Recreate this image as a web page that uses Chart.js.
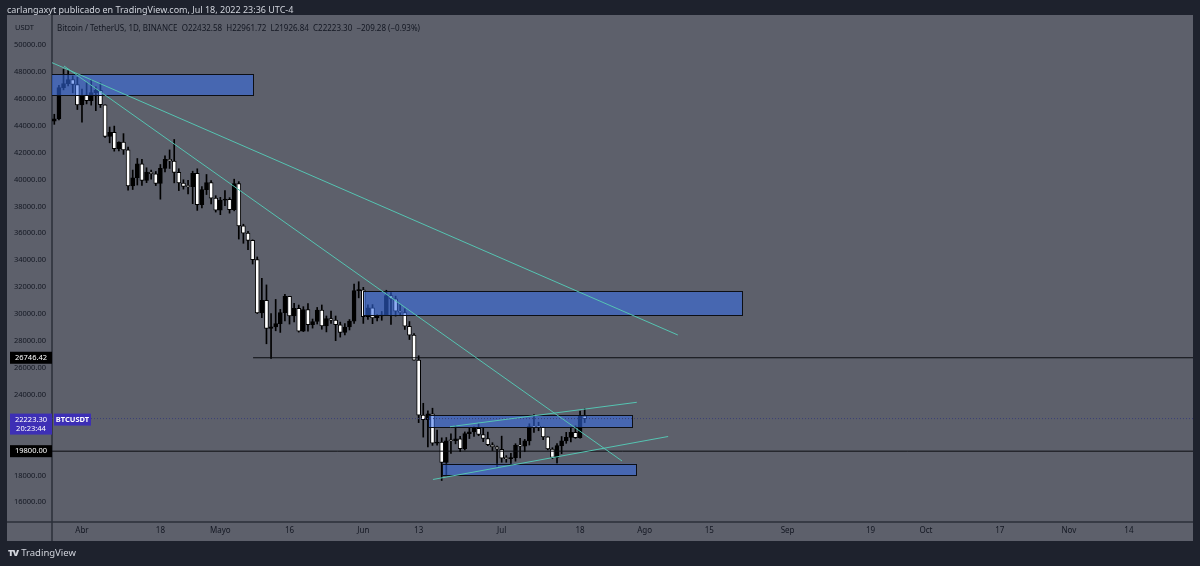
<!DOCTYPE html>
<html>
<head>
<meta charset="utf-8">
<script src="https://cdn.jsdelivr.net/npm/chart.js@4.4.0/dist/chart.umd.min.js"></script>
<style>
  html, body { margin: 0; padding: 0; background: #1e222d; }
  #wrap { position: relative; width: 1200px; height: 566px; font-family: 'Noto Sans', 'Open Sans', sans-serif; }
  #chart { position: absolute; left: 0; top: 0; }
  .txt { position: absolute; white-space: pre; line-height: 1; }
  .header { left: 7px; top: 5px; font-size: 9px; color: #d1d4dc; }
  .unit { left: 15px; top: 24px; font-size: 7.5px; color: #131722; }
  .legend { left: 57px; top: 24px; font-size: 8px; color: #131722; }
  .footer { left: 8px; top: 548px; font-size: 9.5px; color: #d1d4dc; }
  .logo { font-weight: 900; letter-spacing: -1px; margin-right: 3px; }
</style>
</head>
<body>
<div id="wrap">
  <canvas id="chart" width="1200" height="566"></canvas>
  <div class="txt header">carlangaxyt publicado en TradingView.com, Jul 18, 2022 23:36 UTC-4</div>
  <div class="txt unit">USDT</div>
  <div class="txt legend">Bitcoin / TetherUS, 1D, BINANCE  O22432.58  H22961.72  L21926.84  C22223.30  −209.28 (−0.93%)</div>
  <div class="txt footer"><span class="logo">TV</span>TradingView</div>
</div>
<script>
'use strict'

// daily candles, first one is 26 Mar 2022; x is counted in days from 1 Apr
const firstDay = -6

const opens = [
  44331, 44511, 46827, 47122, 47434, 47062,
  45538, 46281, 45868, 46453, 46622, 45555, 43206, 43503, 42287, 42782,
  42207, 39521, 40127, 41166, 39935, 40553, 40424, 39716, 40826, 41502,
  41374, 40527, 39740, 39486, 39469, 40458, 38120, 39241, 39773, 38609,
  37714, 38469, 38529, 37750, 39695, 36552, 36013, 35472, 34039, 30076,
  31017, 28936, 29047, 29283, 30101, 31305, 29862, 30425, 28716, 30319,
  29201, 29445, 30294, 29110, 29655, 29543, 29202, 28630, 29032, 29468, 31734,
  31801, 29805, 30452, 29700, 29865, 29919, 31373, 31125, 30204, 30109,
  29091, 28424, 26574, 22485, 22136, 22583, 20400, 20468, 18970, 20574,
  20573, 20723, 19987, 21110, 21237, 21491, 21038, 20742, 20281, 20123,
  19942, 19279, 19252, 19315, 20236, 20175, 20564, 21624, 21594, 21591,
  20862, 19963, 19328, 20212, 20570, 20830, 21195, 20798, 22432.58
]
const highs = [
  44850, 46999, 48189, 48096, 47700, 47600,
  46720, 47213, 47444, 46890, 47200, 45555, 43900, 43970, 42800, 43410,
  42415, 40700, 41561, 41500, 40870, 40709, 40596, 41116, 41760, 42199,
  42976, 40800, 39980, 39940, 40616, 40797, 39474, 40372, 39925, 38795,
  38675, 39167, 38650, 40023, 39845, 36675, 36146, 35514, 34243, 32658,
  32162, 30032, 31083, 30343, 31460, 31305, 30788, 30666, 30545, 30777,
  29625, 30487, 30670, 29851, 30225, 29849, 29397, 29294, 29588, 32222, 32399,
  31982, 30690, 30699, 29950, 30189, 31765, 31589, 31327, 30700, 30392,
  29440, 28544, 26895, 23362, 22800, 22995, 21365, 20792, 20815, 21090,
  21723, 20900, 21233, 21558, 21614, 21868, 21539, 21212, 20432, 20179,
  20918, 19470, 19647, 20354, 20750, 20675, 21838, 22527, 21954, 21591,
  20868, 20059, 20366, 20890, 21200, 21588, 21684, 22777, 22961.72
]
const lows = [
  44100, 44421, 46663, 46950, 46445, 45200,
  44255, 45620, 45530, 45118, 45353, 43121, 42727, 42107, 42125, 41868,
  39200, 39254, 39588, 39551, 39766, 40019, 39546, 38536, 40571, 40820,
  39751, 39177, 39285, 38929, 38200, 37702, 37881, 38881, 38175, 37578,
  37386, 38052, 37500, 37670, 35571, 35258, 34785, 33714, 30033, 29730,
  27785, 26700, 28751, 28630, 29480, 29251, 29405, 28654, 28691, 28730,
  28950, 29255, 28866, 28669, 29295, 28019, 28282, 28450, 28811, 29299, 31200,
  29301, 29594, 29282, 29485, 29532, 29894, 29218, 29843, 29944, 28850,
  28100, 26560, 21925, 20846, 20111, 20232, 20246, 17622, 17960, 19637,
  20348, 19770, 19890, 20740, 20906, 20950, 20510, 20202, 19847, 18626,
  18975, 18977, 18781, 19055, 19304, 19761, 20257, 21189, 21319, 20655,
  19900, 19240, 18910, 19617, 20384, 20485, 20752, 20762, 21926.84
]
const closes = [
  44511, 46827, 47122, 47434, 47062, 45538,
  46281, 45868, 46453, 46622, 45555, 43206, 43503, 42287, 42782, 42207,
  39521, 40127, 41166, 39935, 40553, 40424, 39716, 40826, 41502, 41374,
  40527, 39740, 39486, 39469, 40458, 38120, 39241, 39773, 38609, 37714,
  38469, 38529, 37750, 39695, 36552, 36013, 35472, 34039, 30076, 31017,
  28936, 29047, 29283, 30101, 31305, 29862, 30425, 28716, 30319, 29201,
  29445, 30294, 29110, 29655, 29543, 29202, 28630, 29032, 29468, 31734, 31801,
  29805, 30452, 29700, 29865, 29919, 31373, 31125, 30204, 30109, 29091,
  28424, 26574, 22487, 22136, 22583, 20401, 20468, 18970, 20574, 20573,
  20723, 19987, 21110, 21237, 21491, 21038, 20742, 20281, 20123, 19942,
  19279, 19252, 19315, 20236, 20175, 20564, 21624, 21594, 21591, 20862,
  19963, 19328, 20212, 20570, 20830, 21195, 20798, 22432, 22223.30
]

// axis ticks
const yTicks = [16000, 18000, 20000, 22000, 24000, 26000, 28000, 30000, 32000,
  34000, 36000, 38000, 40000, 42000, 44000, 46000, 48000, 50000]
const xTickDays = [0, 17, 30, 45, 61, 73, 91, 108, 122, 136, 153, 171, 183, 199, 214, 227]
const xTickLabels = ['Abr', '18', 'Mayo', '16', 'Jun', '13', 'Jul', '18', 'Ago', '15',
  'Sep', '19', 'Oct', '17', 'Nov', '14']

// drawn rectangles (days / prices)
const boxStart = [-10, 61.0, 75.1, 78.1]
const boxEnd = [37.1, 143.1, 119.3, 120.2]
const boxTop = [47822, 31710, 22468, 18870]
const boxBottom = [46260, 29903, 21576, 18030]

// trend lines: [day, price] pairs
const trendA = [[-6.5, 48684], [129.2, 28439]]
const trendB = [[-3.9, 48439], [117.1, 19071]]
const trendC = [[79.8, 21621], [120.3, 23435]]
const trendD = [[76.1, 17695], [127.1, 20892]]

// horizontal levels
const supportLevel = 26746.42
const supportFrom = 37.1
const floorLevel = 19800
const lastPrice = 22223.30
const countdown = '20:23:44'
const symbol = 'BTCUSDT'

const xMin = -6.5
const xMax = 240.9
const yMin = 14535
const yMax = 52230

const FONT = "'Noto Sans', 'Open Sans', sans-serif"
const GREY = '#5d606b'
const DARK = '#1e222d'
const TEAL = '#55c4b2'

const days = opens.map((_, i) => firstDay + i)
const wicks = days.map((d, i) => ({ x: d, y: [lows[i], highs[i]] }))
const bodies = days.map((d, i) => ({ x: d, y: [opens[i], closes[i]] }))
const bodyColors = closes.map((c, i) => (c >= opens[i] ? '#000000' : '#ffffff'))

const toPoints = (pairs) => pairs.map((p) => ({ x: p[0], y: p[1] }))

function lineSet(points, color, dash) {
  return {
    type: 'line',
    data: points,
    borderColor: color,
    borderWidth: 1,
    borderDash: dash || [],
    pointRadius: 0,
    fill: false,
    order: 0,
  }
}

const chromePlugin = {
  id: 'chrome',
  beforeDraw(chart) {
    const ctx = chart.ctx
    const area = chart.chartArea
    const xs = chart.scales.x
    const ys = chart.scales.y
    ctx.save()
    ctx.fillStyle = DARK
    ctx.fillRect(0, 0, chart.width, chart.height)
    ctx.fillStyle = GREY
    ctx.fillRect(ys.left, area.top, area.right - ys.left, xs.bottom - area.top)
    ctx.strokeStyle = '#2b2f3a'
    ctx.lineWidth = 1.5
    ctx.beginPath()
    ctx.moveTo(area.left, area.top)
    ctx.lineTo(area.left, xs.bottom)
    ctx.moveTo(ys.left, area.bottom)
    ctx.lineTo(area.right, area.bottom)
    ctx.stroke()
    ctx.restore()
  },
}

const boxPlugin = {
  id: 'boxes',
  afterDatasetDraw(chart, args) {
    if (chart.data.datasets[args.index].label !== 'bodies') return
    const ctx = chart.ctx
    const area = chart.chartArea
    const xs = chart.scales.x
    const ys = chart.scales.y
    ctx.save()
    ctx.beginPath()
    ctx.rect(area.left, area.top, area.right - area.left, area.bottom - area.top)
    ctx.clip()
    boxStart.forEach((start, i) => {
      const x0 = xs.getPixelForValue(start)
      const x1 = xs.getPixelForValue(boxEnd[i])
      const y0 = ys.getPixelForValue(boxTop[i])
      const y1 = ys.getPixelForValue(boxBottom[i])
      ctx.fillStyle = 'rgba(52, 110, 235, 0.55)'
      ctx.fillRect(x0, y0, x1 - x0, y1 - y0)
      ctx.strokeStyle = '#0d0f14'
      ctx.lineWidth = 1
      ctx.strokeRect(Math.round(x0) + 0.5, Math.round(y0) + 0.5, Math.round(x1 - x0), Math.round(y1 - y0))
    })
    ctx.restore()
  },
}

const priceTagPlugin = {
  id: 'priceTags',
  afterDraw(chart) {
    const ctx = chart.ctx
    const ys = chart.scales.y
    const left = 10
    const right = chart.chartArea.left
    ctx.save()
    ctx.textBaseline = 'middle'
    ctx.textAlign = 'center'
    ctx.font = '7.5px ' + FONT

    const tag = (value) => {
      const y = ys.getPixelForValue(value)
      ctx.fillStyle = '#000000'
      ctx.fillRect(left, y - 6, right - left, 12)
      ctx.fillStyle = '#ffffff'
      ctx.fillText(value.toFixed(2), (left + right) / 2, y)
    }
    tag(supportLevel)
    tag(floorLevel)

    const py = ys.getPixelForValue(lastPrice)
    ctx.fillStyle = '#3d2fb5'
    ctx.fillRect(left, py - 5, right - left, 21)
    ctx.fillRect(right + 2, py - 5, 37, 12)
    ctx.fillStyle = '#ffffff'
    ctx.fillText(lastPrice.toFixed(2), (left + right) / 2, py + 1)
    ctx.fillText(countdown, (left + right) / 2, py + 10.5)
    ctx.font = 'bold 7.5px ' + FONT
    ctx.fillText(symbol, right + 20.5, py + 1)
    ctx.restore()
  },
}

const config = {
  type: 'bar',
  data: {
    datasets: [
      lineSet(toPoints(trendA), TEAL),
      lineSet(toPoints(trendB), TEAL),
      lineSet(toPoints(trendC), TEAL),
      lineSet(toPoints(trendD), TEAL),
      Object.assign(lineSet([{ x: supportFrom, y: supportLevel }, { x: xMax, y: supportLevel }], '#0b0c10'), { order: 1 }),
      Object.assign(lineSet([{ x: xMin, y: floorLevel }, { x: xMax, y: floorLevel }], '#0b0c10'), { order: 1 }),
      Object.assign(lineSet([{ x: xMin, y: lastPrice }, { x: xMax, y: lastPrice }], '#3a3f78', [1, 2]), { order: 1 }),
      {
        type: 'bar',
        label: 'bodies',
        data: bodies,
        backgroundColor: bodyColors,
        borderColor: '#000000',
        borderWidth: 1,
        borderSkipped: false,
        barThickness: 4,
        minBarLength: 1,
        grouped: false,
        order: 2,
      },
      {
        type: 'bar',
        label: 'wicks',
        data: wicks,
        backgroundColor: '#000000',
        barThickness: 1,
        grouped: false,
        order: 3,
      },
    ],
  },
  options: {
    responsive: false,
    animation: false,
    layout: { padding: { left: 7, right: 7, top: 15, bottom: 25 } },
    plugins: { legend: { display: false }, tooltip: { enabled: false } },
    scales: {
      x: {
        type: 'linear',
        min: xMin,
        max: xMax,
        offset: false,
        grid: { display: false, drawTicks: false },
        border: { display: false },
        afterBuildTicks: (s) => { s.ticks = xTickDays.map((v) => ({ value: v })) },
        afterFit: (s) => { s.height = 19 },
        ticks: {
          autoSkip: false,
          maxRotation: 0,
          padding: 4,
          color: '#131722',
          font: { size: 8, family: FONT },
          callback: (v, i) => xTickLabels[i],
        },
      },
      y: {
        type: 'linear',
        position: 'left',
        min: yMin,
        max: yMax,
        grid: { display: false, drawTicks: false },
        border: { display: false },
        afterBuildTicks: (s) => { s.ticks = yTicks.map((v) => ({ value: v })) },
        afterFit: (s) => { s.width = 45 },
        ticks: {
          padding: 6,
          color: '#131722',
          font: { size: 7.5, family: FONT },
          callback: (v) => Number(v).toFixed(2),
        },
      },
    },
  },
  plugins: [chromePlugin, boxPlugin, priceTagPlugin],
}

const myChart = new Chart(document.getElementById('chart'), config)
</script>
</body>
</html>
